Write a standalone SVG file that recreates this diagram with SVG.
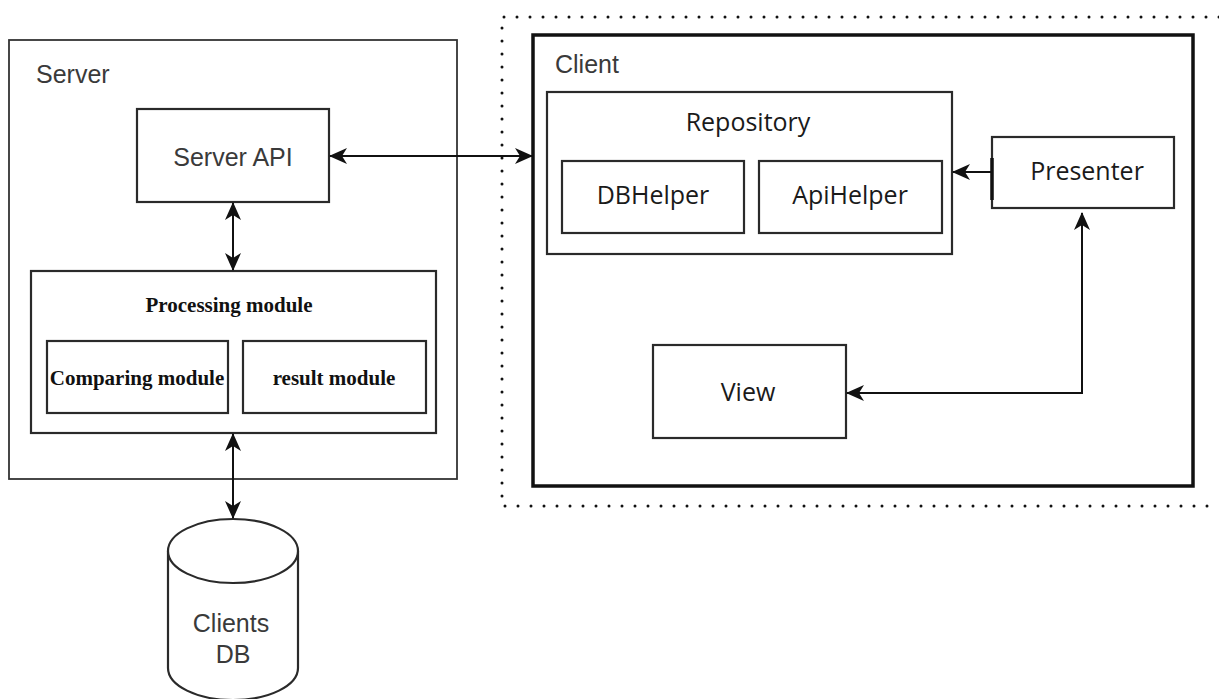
<svg xmlns="http://www.w3.org/2000/svg" width="1219" height="699" viewBox="0 0 1219 699">
  <style>
    .frame { fill: none; stroke: #333; stroke-width: 1.8; }
    .box { fill: #fff; stroke: #2a2a2a; stroke-width: 2.2; }
    .sans { font-family: "Liberation Sans", Arial, sans-serif; fill: #3a3a3a; }
    .serif { font-family: "Liberation Serif", "Times New Roman", serif; font-weight: bold; fill: #111; }
    .ui { font-family: "Open Sans", "Noto Sans", sans-serif; fill: #1a1a1a; }
    .link { fill: none; stroke: #111; stroke-width: 2; }
  </style>
  <defs>
    <marker id="head" viewBox="0 0 18 16" refX="17" refY="8" markerWidth="18" markerHeight="16" markerUnits="userSpaceOnUse" orient="auto-start-reverse">
      <path d="M0,0 L18,8 L0,16 L5,8 z" fill="#111"/>
    </marker>
  </defs>
  <rect width="1219" height="699" fill="#fff"/>

  <!-- Server side -->
  <g id="server">
    <rect class="frame" x="9" y="40" width="448" height="439"/>
    <text class="sans" x="36" y="83" font-size="25">Server</text>
  </g>
  <g id="server-api">
    <rect class="box" x="137" y="109" width="192" height="93"/>
    <text class="sans" x="233" y="166" font-size="25" text-anchor="middle">Server API</text>
  </g>
  <g id="processing-module">
    <rect class="box" x="31" y="271" width="405" height="162"/>
    <text class="serif" x="229" y="312" font-size="21" text-anchor="middle">Processing module</text>
  </g>
  <g id="comparing-module">
    <rect class="box" x="47" y="341" width="181" height="72"/>
    <text class="serif" x="137" y="385" font-size="21" text-anchor="middle">Comparing module</text>
  </g>
  <g id="result-module">
    <rect class="box" x="243" y="341" width="183" height="72"/>
    <text class="serif" x="334" y="385" font-size="21" text-anchor="middle">result module</text>
  </g>
  <g id="clients-db">
    <path class="box" d="M168,551 L168,668 A65,32 0 0 0 298,668 L298,551"/>
    <ellipse class="box" cx="233" cy="551" rx="65" ry="32"/>
    <text class="sans" x="231" y="632" font-size="25" text-anchor="middle">Clients</text>
    <text class="sans" x="233" y="663" font-size="25" text-anchor="middle">DB</text>
  </g>

  <!-- Client side -->
  <g id="client-area">
    <path d="M1219,17 L502,17 L502,506 L1219,506" fill="none" stroke="#111" stroke-width="3" stroke-linecap="round" stroke-dasharray="0 13"/>
    <rect x="533" y="35" width="660" height="451" fill="none" stroke="#111" stroke-width="3.5"/>
    <text class="sans" x="555" y="73" font-size="25">Client</text>
  </g>
  <g id="repository">
    <rect class="box" x="547" y="92" width="405" height="162"/>
    <text class="ui" x="748" y="131" font-size="25" text-anchor="middle">Repository</text>
  </g>
  <g id="db-helper">
    <rect class="box" x="562" y="161" width="182" height="72"/>
    <text class="ui" x="653" y="204" font-size="25" text-anchor="middle">DBHelper</text>
  </g>
  <g id="api-helper">
    <rect class="box" x="759" y="161" width="183" height="72"/>
    <text class="ui" x="850" y="204" font-size="25" text-anchor="middle">ApiHelper</text>
  </g>
  <g id="presenter">
    <rect class="box" x="992" y="137" width="182" height="71"/>
    <line x1="992" y1="158" x2="992" y2="200" stroke="#111" stroke-width="3.5"/>
    <text class="ui" x="1087" y="180" font-size="25" text-anchor="middle">Presenter</text>
  </g>
  <g id="view">
    <rect class="box" x="653" y="345" width="193" height="93"/>
    <text class="ui" x="748" y="401" font-size="25" text-anchor="middle">View</text>
  </g>

  <!-- Connectors -->
  <g id="connectors">
    <line class="link" x1="330" y1="156" x2="532" y2="156" marker-start="url(#head)" marker-end="url(#head)"/>
    <line class="link" x1="233" y1="203" x2="233" y2="270" marker-start="url(#head)" marker-end="url(#head)"/>
    <line class="link" x1="233" y1="434" x2="233" y2="518" marker-start="url(#head)" marker-end="url(#head)"/>
    <line class="link" x1="992" y1="172" x2="953" y2="172" marker-end="url(#head)"/>
    <path class="link" d="M1082,213 L1082,393 L847,393" marker-start="url(#head)" marker-end="url(#head)"/>
  </g>
</svg>
